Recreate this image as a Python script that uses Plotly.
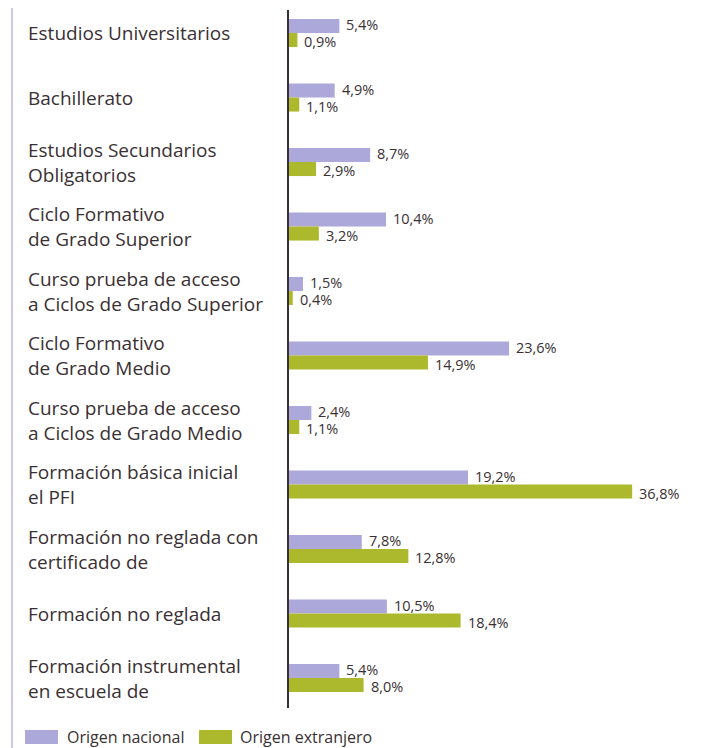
import plotly.graph_objects as go

categories = [
    "Estudios Universitarios",
    "Bachillerato",
    "Estudios Secundarios<br>Obligatorios",
    "Ciclo Formativo<br>de Grado Superior",
    "Curso prueba de acceso<br>a Ciclos de Grado Superior",
    "Ciclo Formativo<br>de Grado Medio",
    "Curso prueba de acceso<br>a Ciclos de Grado Medio",
    "Formación básica inicial<br>el PFI",
    "Formación no reglada con<br>certificado de",
    "Formación no reglada",
    "Formación instrumental<br>en escuela de",
]
origen_nacional = [5.4, 4.9, 8.7, 10.4, 1.5, 23.6, 2.4, 19.2, 7.8, 10.5, 5.4]
origen_extranjero = [0.9, 1.1, 2.9, 3.2, 0.4, 14.9, 1.1, 36.8, 12.8, 18.4, 8.0]
series_names = ["Origen nacional", "Origen extranjero"]

# page is rendered with an 8px body margin -> compensate
OFF = 8
W, H = 719 - OFF, 748 - OFF
ML, MR, MT, MB = 289 - OFF, 57, 10 - OFF, 40
PW, PH = W - ML - MR, H - MT - MB
TXT = "#3a3033"
PURPLE = "#aca8da"
GREEN = "#acb92c"
FONT = "Open Sans"

idx = list(range(len(categories)))

def px_to_paper_x(px):
    return (px - OFF - ML) / PW

def px_to_paper_y(py):
    return (H - MB - (py - OFF)) / PH

fig = go.Figure()
series = [(origen_nacional, series_names[0], PURPLE, 8.5),
          (origen_extranjero, series_names[1], GREEN, -8.5)]
for vals, name, col, ysh in series:
    fig.add_trace(go.Bar(
        y=idx, x=vals, orientation="h", name=name,
        marker=dict(color=col, line=dict(width=0)),
        showlegend=False,
    ))
    for i, v in zip(idx, vals):
        fig.add_annotation(
            x=v, xref="x", y=i, yref="y",
            xanchor="left", yanchor="middle", xshift=5, yshift=ysh,
            text=f"{v:.1f}%".replace(".", ","), showarrow=False,
            font=dict(family=FONT, size=14.5, color=TXT),
        )

for i, c in enumerate(categories):
    fig.add_annotation(
        x=px_to_paper_x(26), xref="paper", xanchor="left",
        y=i, yref="y", yanchor="middle",
        text=c, showarrow=False, align="left",
        font=dict(family=FONT, size=19, color=TXT),
    )

# left decorative rule
fig.add_shape(
    type="line", xref="paper", yref="paper",
    x0=px_to_paper_x(12), x1=px_to_paper_x(12),
    y0=px_to_paper_y(748), y1=px_to_paper_y(OFF),
    line=dict(color="#cbc8ec", width=2),
)

# legend (wide swatches as in the reference)
legend_items = [(series_names[0], PURPLE, 25, 58, 65),
                (series_names[1], GREEN, 199, 232, 238)]
for name, col, sx0, sx1, tx in legend_items:
    fig.add_shape(
        type="rect", xref="paper", yref="paper",
        x0=px_to_paper_x(sx0), x1=px_to_paper_x(sx1),
        y0=px_to_paper_y(744), y1=px_to_paper_y(730),
        fillcolor=col, line=dict(width=0),
    )
    fig.add_annotation(
        x=px_to_paper_x(tx), xref="paper", xanchor="left",
        y=px_to_paper_y(737), yref="paper", yanchor="middle",
        text=name, showarrow=False,
        font=dict(family=FONT, size=16, color=TXT),
    )

fig.update_layout(
    width=W, height=H,
    margin=dict(l=ML, r=MR, t=MT, b=MB),
    paper_bgcolor="white", plot_bgcolor="white",
    barmode="group", bargap=0.565, bargroupgap=0,
    separators=",.",
    font=dict(family=FONT, color=TXT),
    showlegend=False,
    xaxis=dict(range=[0, 40], visible=False, fixedrange=True),
    yaxis=dict(
        range=[10.465, -0.357], showticklabels=False, ticks="",
        showgrid=False, zeroline=False,
        showline=True, linecolor=TXT, linewidth=1.5,
    ),
)

fig.write_html("out.html")
